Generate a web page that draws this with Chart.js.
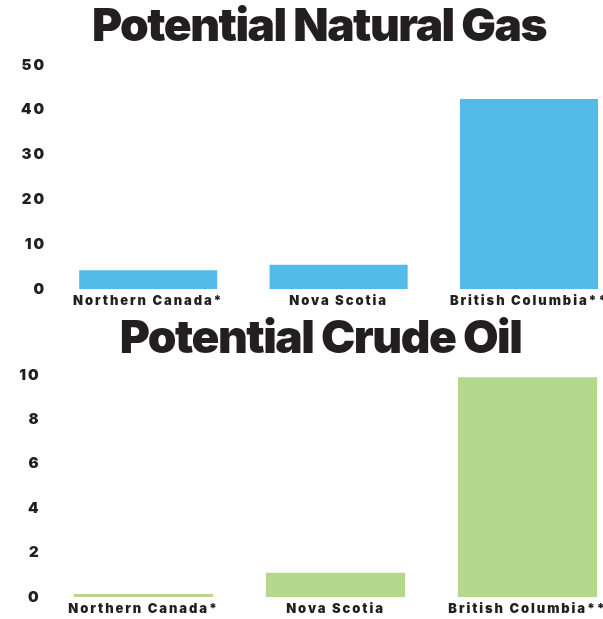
<!DOCTYPE html>
<html>
<head>
<meta charset="utf-8">
<script src="https://cdn.jsdelivr.net/npm/chart.js@4.4.1/dist/chart.umd.min.js"></script>
<style>
  html, body { margin: 0; padding: 0; background: #fff; }
  body {
    width: 603px;
    height: 619px;
    overflow: hidden;
    position: relative;
    color: #231f20;
    font-family: Inter, "DejaVu Sans", sans-serif;
  }
  .chart-title {
    position: absolute;
    left: 0;
    margin: 0;
    text-align: center;
    font-size: 46px;
    font-weight: 900;
    line-height: 1;
    letter-spacing: -1.5px;
    white-space: nowrap;
    z-index: 2;
  }
  #gasTitle { top: 1px; width: 638px; }
  #oilTitle { top: 313px; width: 641px; }
  .chart-box { position: absolute; left: 0; }
  #gasBox { top: 0; width: 625px; height: 311px; }
  #oilBox { top: 310px; width: 624px; height: 309px; }
</style>
</head>
<body>
  <h1 class="chart-title" id="gasTitle">Potential Natural Gas</h1>
  <h1 class="chart-title" id="oilTitle">Potential Crude Oil</h1>
  <div class="chart-box" id="gasBox"><canvas id="gasChart"></canvas></div>
  <div class="chart-box" id="oilBox"><canvas id="oilChart"></canvas></div>

<script>
  const regions = ["Northern Canada*", "Nova Scotia", "British Columbia**"];
  const gasValues = [4.2, 5.4, 42.4];
  const oilValues = [0.14, 1.09, 9.9];
  const gasTicks = [0, 10, 20, 30, 40, 50];
  const oilTicks = [0, 2, 4, 6, 8, 10];

  const ink = "#231f20";
  const gasBlue = "#52bbe9";
  const oilGreen = "#b4d88c";

  // canvas text in this chart is drawn slightly tracked out
  const tracking = {
    id: "tracking",
    beforeDraw: (chart) => {
      chart.ctx.letterSpacing = "1.9px";
    }
  };

  const buildChart = (id, values, ticks, color, axisWidth, padRight) => {
    const canvas = document.getElementById(id);
    return new Chart(canvas, {
      type: "bar",
      data: {
        labels: regions,
        datasets: [
          {
            data: values,
            backgroundColor: color,
            borderWidth: 0,
            categoryPercentage: 1,
            barPercentage: 0.725
          }
        ]
      },
      options: {
        responsive: true,
        maintainAspectRatio: false,
        animation: false,
        layout: { padding: { top: 65, right: padRight, left: 0, bottom: 0 } },
        plugins: {
          legend: { display: false },
          tooltip: { enabled: false }
        },
        scales: {
          x: {
            grid: { display: false, drawTicks: false },
            border: { display: false },
            ticks: {
              color: ink,
              padding: 4,
              maxRotation: 0,
              autoSkip: false,
              font: { family: "Inter", weight: 900, size: 13 }
            },
            afterFit: (scale) => { scale.height = 22; }
          },
          y: {
            min: 0,
            max: ticks[ticks.length - 1],
            grid: { display: false, drawTicks: false },
            border: { display: false },
            ticks: {
              color: ink,
              padding: 7,
              font: { family: "Inter", weight: 900, size: 15 }
            },
            afterBuildTicks: (axis) => {
              axis.ticks = ticks.map((value) => ({ value }));
            },
            afterFit: (scale) => { scale.width = axisWidth; }
          }
        }
      },
      plugins: [tracking]
    });
  };

  buildChart("gasChart", gasValues, gasTicks, gasBlue, 53, 0.75);
  buildChart("oilChart", oilValues, oilTicks, oilGreen, 47.5, 0.5);
</script>
</body>
</html>
